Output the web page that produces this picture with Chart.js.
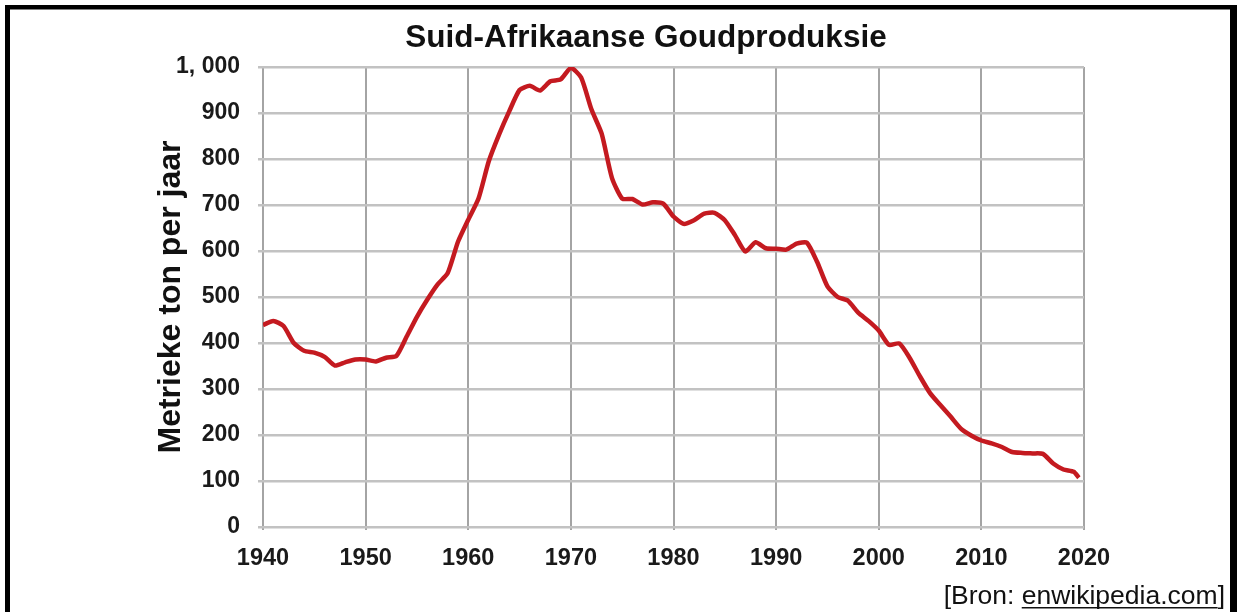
<!DOCTYPE html>
<html lang="af">
<head>
<meta charset="utf-8">
<title>Suid-Afrikaanse Goudproduksie</title>
<script src="https://cdn.jsdelivr.net/npm/chart.js@4.4.1/dist/chart.umd.min.js"></script>
<style>
	html, body {
		margin: 0;
		padding: 0;
		background: #fff;
	}
	#gold-chart {
		display: block;
	}
</style>
</head>
<body>
<canvas id="gold-chart" width="1237" height="612"></canvas>
<script>
	// Chart data
	const years = [
		1940, 1941, 1942, 1943, 1944, 1945, 1946, 1947, 1948, 1949,
		1950, 1951, 1952, 1953, 1954, 1955, 1956, 1957, 1958, 1959,
		1960, 1961, 1962, 1963, 1964, 1965, 1966, 1967, 1968, 1969,
		1970, 1971, 1972, 1973, 1974, 1975, 1976, 1977, 1978, 1979,
		1980, 1981, 1982, 1983, 1984, 1985, 1986, 1987, 1988, 1989,
		1990, 1991, 1992, 1993, 1994, 1995, 1996, 1997, 1998, 1999,
		2000, 2001, 2002, 2003, 2004, 2005, 2006, 2007, 2008, 2009,
		2010, 2011, 2012, 2013, 2014, 2015, 2016, 2017, 2018, 2019, 2019.5
	];
	const production = [
		439, 448, 437, 400, 383, 379, 370, 351, 358, 364,
		364, 360, 368, 372, 414, 457, 494, 527, 552, 620,
		668, 714, 795, 853, 904, 950, 959, 949, 969, 973,
		998, 977, 908, 855, 759, 714, 713, 701, 706, 703,
		675, 659, 667, 681, 683, 667, 634, 599, 619, 606,
		605, 603, 616, 618, 576, 523, 500, 492, 466, 448,
		427, 396, 399, 368, 328, 291, 265, 240, 214, 199,
		188, 182, 174, 163, 161, 160, 159, 138, 125, 120, 107
	];
	const xTicks = [1940, 1950, 1960, 1970, 1980, 1990, 2000, 2010, 2020];
	const yTickLabels = ['0', '100', '200', '300', '400', '500', '600', '700', '800', '900', '1, 000'];

	const chartTitle = 'Suid-Afrikaanse Goudproduksie';
	const yTitle = 'Metrieke ton per jaar';
	const sourcePrefix = '[Bron: ';
	const sourceLink = 'enwikipedia.com';
	const sourceSuffix = ']';

	const FONT = '"Liberation Sans", Arial, Helvetica, sans-serif';

	/**
	 * Draws the black frame, the heading and the source note
	 */
	const decorations = {
		id: 'decorations',
		afterDraw(chart) {
			const ctx = chart.ctx;
			ctx.save();

			// frame (top, left, right)
			ctx.fillStyle = '#000';
			ctx.fillRect(5, 5, 1232, 4.5);
			ctx.fillRect(5, 5, 5, 607);
			ctx.fillRect(1230, 5, 7, 607);

			// heading
			ctx.fillStyle = '#111';
			ctx.font = 'bold 31.5px ' + FONT;
			ctx.textAlign = 'center';
			ctx.textBaseline = 'alphabetic';
			ctx.fillText(chartTitle, 646, 47);

			// source note, right aligned, link underlined
			ctx.font = '26.5px ' + FONT;
			ctx.textAlign = 'left';
			const wPre = ctx.measureText(sourcePrefix).width;
			const wLink = ctx.measureText(sourceLink).width;
			const wSuf = ctx.measureText(sourceSuffix).width;
			const x0 = 1225 - (wPre + wLink + wSuf);
			const base = 604;
			ctx.fillText(sourcePrefix, x0, base);
			ctx.fillText(sourceLink, x0 + wPre, base);
			ctx.fillText(sourceSuffix, x0 + wPre + wLink, base);
			ctx.fillRect(x0 + wPre, base + 3, wLink, 1.5);

			ctx.restore();
		}
	};

	/**
	 * Build the line chart
	 */
	function init() {
		const canvas = document.getElementById('gold-chart');
		if (!canvas) return;

		const points = years.map((y, i) => ({ x: y, y: production[i] }));

		new Chart(canvas.getContext('2d'), {
			type: 'line',
			data: {
				datasets: [{
					data: points,
					borderColor: '#c41a20',
					borderWidth: 4.5,
					pointRadius: 0,
					tension: 0.2,
					fill: false
				}]
			},
			options: {
				responsive: false,
				animation: false,
				layout: {
					padding: { left: 140, right: 153, top: 67, bottom: 0 }
				},
				plugins: {
					legend: { display: false },
					title: { display: false },
					tooltip: { enabled: false }
				},
				scales: {
					x: {
						type: 'linear',
						min: 1940,
						max: 2020,
						afterBuildTicks(scale) {
							scale.ticks = xTicks.map(v => ({ value: v }));
						},
						afterFit(scale) {
							scale.height = 85;
						},
						border: { display: false },
						grid: {
							color: '#a4a4a4',
							lineWidth: 2,
							tickLength: 3
						},
						ticks: {
							color: '#1a1a1a',
							font: { family: FONT, size: 23.5, weight: 'bold' },
							padding: 14,
							maxRotation: 0,
							callback: (value) => String(value)
						}
					},
					y: {
						min: 0,
						max: 1000,
						afterFit(scale) {
							scale.width = 123;
						},
						border: { display: false },
						grid: {
							color: '#c2c2c2',
							lineWidth: 2.5,
							tickLength: 5
						},
						ticks: {
							stepSize: 100,
							color: '#1a1a1a',
							font: { family: FONT, size: 23, weight: 'bold' },
							padding: 18,
							callback: (value, index) => yTickLabels[index]
						},
						title: {
							display: true,
							text: yTitle,
							color: '#111',
							font: { family: FONT, size: 32, weight: 'bold' },
							padding: { top: 12, bottom: 0 }
						}
					}
				}
			},
			plugins: [decorations]
		});
	}

	if (document.readyState === 'loading') {
		document.addEventListener('DOMContentLoaded', init);
	} else {
		init();
	}
</script>
</body>
</html>
